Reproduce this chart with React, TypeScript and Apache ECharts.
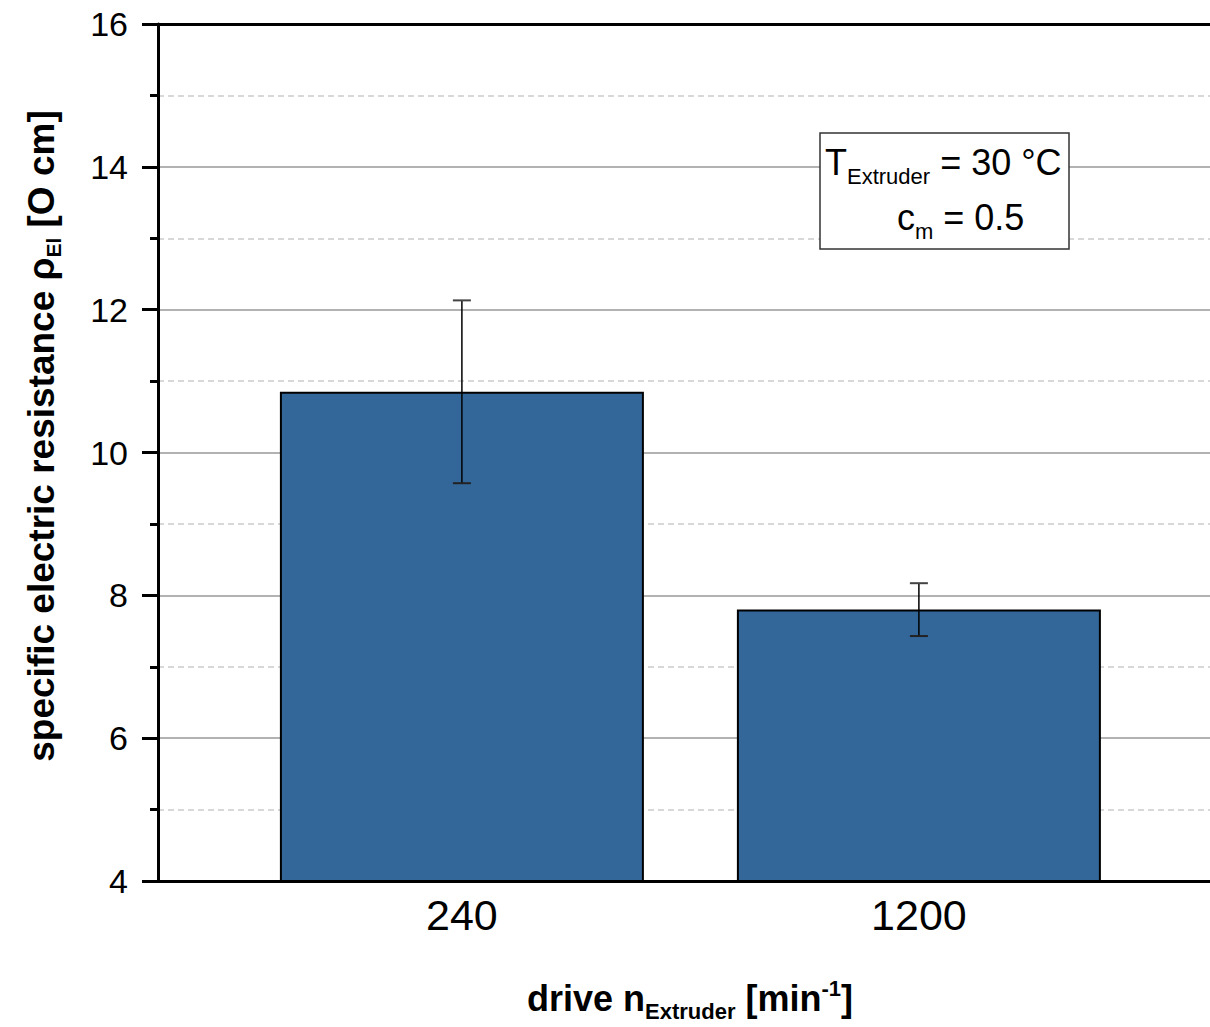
import React, { useEffect, useRef } from "react";
import * as echarts from "echarts";

const categories = ["240", "1200"];
const categoryPositions = [1, 2];
const resistanceValues = [10.85, 7.8];
const errorLow = [9.57, 7.43];
const errorHigh = [12.13, 8.17];
const yTicks = { min: 4, max: 16, interval: 2 };

export default function App() {
  const ref = useRef<HTMLDivElement>(null);
  useEffect(() => {
    document.body.style.margin = "0";
    const chart = echarts.init(ref.current!, undefined, { renderer: "svg" });
    const font = "Liberation Sans, Arial, sans-serif";
    const barData = categoryPositions.map((p, i) => [p, resistanceValues[i]]);
    const errData = categoryPositions.map((p, i) => [p, errorLow[i], errorHigh[i]]);
    chart.setOption({
      animation: false,
      backgroundColor: "#ffffff",
      grid: { left: 158, right: 0, top: 24, bottom: 146, containLabel: false },
      xAxis: [
        {
          type: "value",
          min: 0.335,
          max: 2.637,
          axisLine: { show: true, onZero: false, lineStyle: { color: "#000", width: 3 } },
          axisTick: { show: false },
          splitLine: { show: false },
          axisLabel: {
            customValues: categoryPositions,
            formatter: (v: number) => {
              const i = categoryPositions.indexOf(Math.round(v));
              return i >= 0 ? categories[i] : "";
            },
            fontSize: 43,
            color: "#000",
            fontFamily: font,
            margin: 12,
          },
        },
        {
          type: "value",
          position: "top",
          min: 0.335,
          max: 2.637,
          axisLine: { show: true, onZero: false, lineStyle: { color: "#000", width: 3 } },
          axisTick: { show: false },
          axisLabel: { show: false },
          splitLine: { show: false },
        },
      ],
      yAxis: {
        type: "value",
        min: yTicks.min,
        max: yTicks.max,
        interval: yTicks.interval,
        axisLine: { show: true, onZero: false, lineStyle: { color: "#000", width: 3 } },
        axisTick: { show: true, inside: false, length: 16, lineStyle: { color: "#000", width: 3 } },
        minorTick: { show: true, splitNumber: 2, length: 8, lineStyle: { color: "#000", width: 3 } },
        splitLine: { show: true, lineStyle: { color: "#999", width: 1.5 } },
        minorSplitLine: { show: true, lineStyle: { color: "#ccc", width: 1.5, type: [6, 4] } },
        axisLabel: { fontSize: 34, color: "#000", fontFamily: font, margin: 30 },
      },
      series: [
        {
          type: "bar",
          data: barData,
          barWidth: 364,
          clip: true,
          itemStyle: { color: "#346799", borderColor: "#000", borderWidth: 2 },
          z: 2,
        },
        {
          type: "custom",
          data: errData,
          z: 5,
          renderItem: (params: any, api: any) => {
            const x = api.value(0);
            const lo = api.coord([x, api.value(1)]);
            const hi = api.coord([x, api.value(2)]);
            const cap = 9;
            const st = { stroke: "#000", lineWidth: 1.5 };
            return {
              type: "group",
              children: [
                { type: "line", shape: { x1: lo[0], y1: lo[1], x2: hi[0], y2: hi[1] }, style: st },
                { type: "line", shape: { x1: lo[0] - cap, y1: lo[1], x2: lo[0] + cap, y2: lo[1] }, style: { stroke: "#222", lineWidth: 2 } },
                { type: "line", shape: { x1: hi[0] - cap, y1: hi[1], x2: hi[0] + cap, y2: hi[1] }, style: { stroke: "#444", lineWidth: 2 } },
              ],
            };
          },
        },
      ],
      graphic: [
        {
          type: "rect",
          shape: { x: 820, y: 133, width: 249, height: 116 },
          style: { fill: "#fff", stroke: "#333", lineWidth: 1.5 },
          z: 10,
        },
        {
          type: "text",
          x: 825,
          y: 162,
          z: 11,
          style: {
            text: "T{sub|Extruder} = 30 °C",
            font: `36px ${font}`,
            fill: "#000",
            verticalAlign: "middle",
            align: "left",
            rich: {
              sub: { fontSize: 22, fontFamily: font, fill: "#000", padding: [28, 0, 0, 0] },
            },
          },
        },
        {
          type: "text",
          x: 897,
          y: 217,
          z: 11,
          style: {
            text: "c{sub|m} = 0.5",
            font: `36px ${font}`,
            fill: "#000",
            verticalAlign: "middle",
            align: "left",
            rich: {
              sub: { fontSize: 22, fontFamily: font, fill: "#000", padding: [28, 0, 0, 0] },
            },
          },
        },
        {
          type: "text",
          x: 41,
          y: 436,
          rotation: Math.PI / 2,
          style: {
            text: "specific electric resistance ρ{sub|El} [O cm]",
            font: `bold 37px ${font}`,
            fill: "#000",
            align: "center",
            verticalAlign: "middle",
            rich: {
              sub: { fontSize: 21, fontWeight: "bold", fontFamily: font, fill: "#000", padding: [24, 0, 0, 0] },
            },
          },
        },
        {
          type: "text",
          x: 690,
          y: 998,
          style: {
            text: "drive n{sub|Extruder} [min{sup|-1}]",
            font: `bold 36px ${font}`,
            fill: "#000",
            align: "center",
            verticalAlign: "middle",
            rich: {
              sub: { fontSize: 22, fontWeight: "bold", fontFamily: font, fill: "#000", padding: [26, 0, 0, 0] },
              sup: { fontSize: 22, fontWeight: "bold", fontFamily: font, fill: "#000", padding: [0, 0, 20, 0] },
            },
          },
        },
      ],
    });
    return () => chart.dispose();
  }, []);
  return (
    <div
      ref={ref}
      style={{ position: "absolute", left: 0, top: 0, width: 1210, height: 1027 }}
    />
  );
}
